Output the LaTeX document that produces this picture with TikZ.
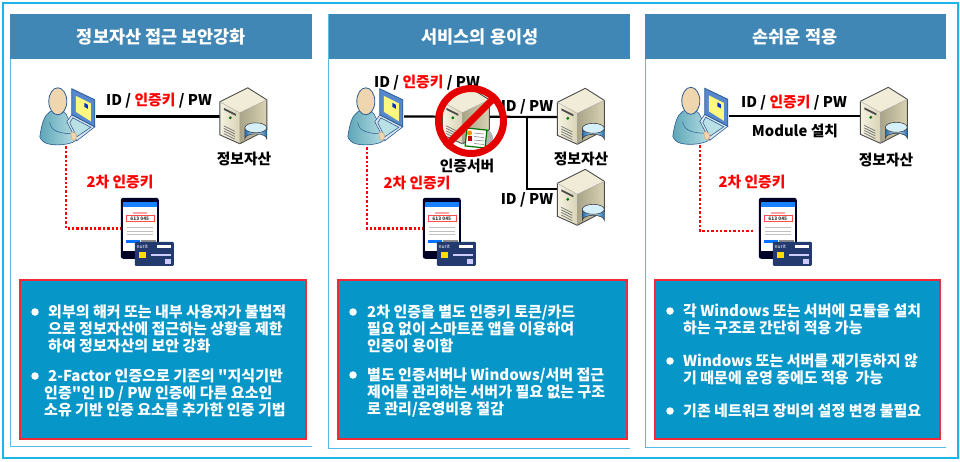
\documentclass[tikz,border=0pt]{standalone}
\usepackage{fontspec}
\setmainfont{Noto Sans CJK KR}
\newfontfamily\krplain{Noto Sans CJK KR}
\newcommand{\qmark}{{\krplain"}}
\usetikzlibrary{calc}
\definecolor{frameblue}{HTML}{1CB5EA}
\definecolor{panelline}{HTML}{55BDE4}
\definecolor{headblue}{HTML}{4187B5}
\definecolor{boxblue}{HTML}{0796C8}
\definecolor{boxred}{HTML}{EE2B36}
\definecolor{keyred}{HTML}{FF0000}
\definecolor{bodyl}{HTML}{B9E0E4}
\definecolor{bodyr}{HTML}{5FA6B8}
\definecolor{skin}{HTML}{F0D6AE}
\definecolor{outlineblue}{HTML}{2B5C94}
\definecolor{srvtop}{HTML}{F1ECD8}
\definecolor{srvl}{HTML}{F5F2E2}
\definecolor{srvm}{HTML}{D9D3B4}
\definecolor{srvr}{HTML}{A9A388}
\definecolor{cyla}{HTML}{1C6DB4}
\definecolor{cylb}{HTML}{D6F0FA}
\definecolor{navycard}{HTML}{233A6E}
\tikzset{
  x=1pt,y=-1pt,
  headtext/.style={font=\fontsize{17.5}{20}\selectfont\bfseries,text=white,inner sep=0},
  infobox/.style={fill=boxblue,draw=boxred,line width=1.2pt},
  infotext/.style={font=\fontsize{15}{17}\selectfont\bfseries,text=white,inner sep=0,align=left,anchor=west},
  bulletdot/.style={circle,fill=white,inner sep=0,minimum size=7.5pt},
  lab/.style={font=\fontsize{14.8}{16}\selectfont\bfseries,inner sep=0,text=black},
  redlab/.style={font=\fontsize{14.8}{16}\selectfont\bfseries,inner sep=0,text=keyred},
  link/.style={draw=black,line width=2.2pt},
  dotlink/.style={draw=keyred,line width=2.4pt,dash pattern=on 2.4pt off 2pt},
  anchorbox/.style={inner sep=0,minimum width=#1,draw=none},
  userpic/.pic={
    \draw[draw=outlineblue,line width=.6pt,left color=bodyr,right color=bodyl]
      (0,49) .. controls (2,36) and (4,28) .. (10,24) .. controls (15,21) and (22,21) .. (26,26)
      .. controls (30,33) and (32,40) .. (35,46) -- (38,51) -- (34,54) .. controls (28,57) and (16,58) .. (8,56) .. controls (4,55) and (1,52) .. (0,49) -- cycle;
    \draw[draw=outlineblue,line width=.5pt] (10,34) .. controls (10,43) and (20,46) .. (34,46);
    \draw[draw=outlineblue,line width=.6pt,fill=white!85!outlineblue] (27,34) -- (32,27) -- (55,39) -- (37,53) -- cycle;
    \draw[draw=outlineblue,line width=.6pt,fill=bodyl] (30,35) -- (33,30) -- (51,39.5) -- (37,49) -- cycle;
    \draw[draw=outlineblue,line width=.8pt,fill=cyan!45!blue!70!white] (32,1) -- (55,12) -- (55,39) -- (32,27) -- cycle;
    \fill[yellow!50!white] (36,8) -- (51,15.5) -- (51,33.5) -- (36,24) -- cycle;
    \fill[blue!60!teal] (44.5,15) -- (48,17) -- (48,21) -- (44.5,19) -- cycle;
    \fill[fill=skin,draw=brown!70!white,line width=.4pt] (31,45) .. controls (34,43) and (37,46) .. (37,49) -- (35,53) -- (32,51) -- cycle;
    \draw[draw=outlineblue,line width=.8pt,fill=skin] (18,13.5) ellipse [x radius=9,y radius=13.5];
  },
  serverpic/.pic={
    \shade[left color=srvl,right color=srvm] (0,14) -- (20,25) -- (20,56) -- (0,47) -- cycle;
    \fill[srvtop] (0,14) -- (28,0) -- (47,12) -- (20,25) -- cycle;
    \shade[left color=srvr,right color=srvm] (20,25) -- (47,12) -- (47,42) -- (20,56) -- cycle;
    \draw[draw=black!70,line width=.9pt,line join=round] (0,14) -- (28,0) -- (47,12) -- (47,42) -- (20,56) -- (0,47) -- cycle;
    \draw[black!35,line width=.4pt] (0,14) -- (20,25) -- (47,12) (20,25) -- (20,56);
    \fill[black!70] (4,20) -- (16,26) -- (16,28) -- (4,22) -- cycle;
    \fill[green!45!black] (10.5,30) circle (1.6);
    \foreach \k in {0,2.6,5.2,7.8} {\draw[black!55,line width=.7pt] (4,38+\k) -- (15,43.5+\k);}
  },
  cylpic/.pic={
    \draw[draw=black!75,line width=.6pt,left color=cyla,right color=cyla,middle color=cylb]
      (25,40) -- (25,51) arc[start angle=180,end angle=360,x radius=11,y radius=5] -- (47,40) -- cycle;
    \draw[draw=black!75,line width=.6pt,fill=cylb] (36,40) ellipse[x radius=11,y radius=5];
  },
  phonepic/.pic={
    \fill[black!85!blue,rounded corners=2.5pt] (0,0) rectangle (38,61);
    \fill[white] (2,4) rectangle (36,53);
    \fill[blue!55!cyan!90!white] (2,4) rectangle (36,9);
    \fill[keyred!35!white] (12,14.5) rectangle (26,16);
    \draw[keyred!70!white,line width=.5pt,fill=white] (5,17.5) rectangle (33,23.5);
    \node[inner sep=0,font=\fontsize{4.8}{5}\selectfont\bfseries,text=black!80] (code) at (19,20.6) {613 045};
    \foreach \k in {29,33,36} {\fill[black!25] (6,\k) rectangle (32,\k+1.2);}
    \fill[blue!55!cyan] (5,42) rectangle (19,45);
    \fill[black!45] (20,42) rectangle (35,45);
  },
  cardpic/.pic={
    \fill[navycard,rounded corners=1pt] (0,0) rectangle (39,24);
    \node[inner sep=0,font=\fontsize{5}{5}\selectfont,text=white] (brand) at (7.5,5.2) {nurit};
    \fill[white] (22,3) rectangle (36,6.5);
    \fill[yellow!80!orange] (4,10.5) rectangle (11.5,16);
    \fill[white!80!blue] (16,12.5) rectangle (36,14);
    \fill[white!80!blue] (30,17) rectangle (36,22.5);
  },
}
\begin{document}
\begin{tikzpicture}
\useasboundingbox (0,0) rectangle (960,461);
\fill[white] (0,0) rectangle (960,461);
% frames
\draw[frameblue,line width=2pt] (2.5,3) rectangle (958,458);
\foreach \xa/\xb/\yb in {10/312/446,328.5/630/448,645/946/447}{
  \draw[panelline,line width=1pt] (\xa,14) -- (\xa,\yb) -- (\xb,\yb);
  \fill[headblue] (\xa,14) rectangle (\xb,58.5);
}
\node[headtext] (h1) at (161.5,37) {정보자산 접근 보안강화};
\node[headtext] (h2) at (480,37) {서비스의 용이성};
\node[headtext] (h3) at (795,37) {손쉬운 적용};

% ---------- panel 1
\node[anchorbox=56pt,minimum height=57pt] (u1) at (68,116.5) {};
\node[anchorbox=47pt,minimum height=57pt] (s1) at (243.5,116.5) {};
\node[anchorbox=38pt,minimum height=61pt] (p1) at (140,228.5) {};
\node[anchorbox=39pt,minimum height=24pt] (c1) at (154.5,254) {};
\coordinate (d1) at (66,142);
\draw[link] (u1.east) -- (s1.west);
\draw[dotlink] (d1) |- (p1.west);
\pic at (u1.north west) {userpic};
\pic at (s1.north west) {serverpic};
\pic at (s1.north west) {cylpic};
\pic at (p1.north west) {phonepic};
\pic at (c1.north west) {cardpic};
\node[lab] (t1) at (159,101) {ID / \textcolor{keyred}{인증키} / PW};
\node[lab] (n1) at (244,159) {정보자산};
\node[redlab] (k1) at (120,182) {2차 인증키};

% ---------- panel 2
\node[lab] (t2) at (427,83) {ID / \textcolor{keyred}{인증키} / PW};
\node[lab] (t2b) at (527,107) {ID / PW};
\node[lab] (t2c) at (527,200) {ID / PW};
\node[anchorbox=56pt,minimum height=57pt] (u2) at (376,116.5) {};
\node[anchorbox=47pt,minimum height=57pt] (a2) at (466,116.5) {};
\node[anchorbox=47pt,minimum height=57pt] (s2) at (581,117) {};
\node[anchorbox=47pt,minimum height=57pt] (s3) at (581,198) {};
\node[anchorbox=38pt,minimum height=61pt] (p2) at (442,228.5) {};
\node[anchorbox=39pt,minimum height=24pt] (c2) at (456.5,254) {};
\coordinate (j2) at (527,117);
\coordinate (d2) at (367,143);
\draw[link] (u2.east) -- (s2.west);
\draw[link] (j2) |- ([yshift=9pt]s3.west);
\draw[dotlink] (d2) |- (p2.west);
\pic at (u2.north west) {userpic};
\fill[black!30] (484,138) ellipse[x radius=9,y radius=9];
\pic at (a2.north west) {serverpic};
\draw[green!45!black,line width=1.2pt,fill=white,rotate around={-6:(476,138)}] (466,129) rectangle (486,147);
\fill[orange!85!yellow] (469.5,133) circle (2.6);
\fill[keyred!80!black] (467.5,136) rectangle (472,141);
\foreach \k in {133,136.5,140,143.5}{\draw[black!55,line width=.5pt] (474,\k) -- (484,\k+1);}
\pic at (s2.north west) {serverpic};
\pic at (s2.north west) {cylpic};
\pic at (s3.north west) {serverpic};
\pic at (s3.north west) {cylpic};
\pic at (p2.north west) {phonepic};
\pic at (c2.north west) {cardpic};
\node[circle,draw=keyred!90!black,line width=7pt,inner sep=0,minimum size=65pt] (no) at (471,121) {};
\draw[keyred!90!black,line width=7pt] (no.45) -- (no.225);
\node[lab] (n2a) at (467,166) {인증서버};
\node[lab] (n2) at (581,159) {정보자산};
\node[redlab] (k2) at (417,183) {2차 인증키};

% ---------- panel 3
\node[anchorbox=56pt,minimum height=57pt] (u3) at (701,116) {};
\node[anchorbox=47pt,minimum height=57pt] (s4) at (884,116) {};
\node[anchorbox=38pt,minimum height=61pt] (p3) at (778,231) {};
\node[anchorbox=39pt,minimum height=24pt] (c3) at (792.5,254) {};
\coordinate (d3) at (700,141);
\draw[link] (u3.east) -- (s4.west);
\draw[dotlink,shorten >=4pt] (d3) |- (p3.west);
\pic at (u3.north west) {userpic};
\pic at (s4.north west) {serverpic};
\pic at (s4.north west) {cylpic};
\pic at ($(p3.north west)+(0,-2.5)$) {phonepic};
\pic at (c3.north west) {cardpic};
\node[lab] (t3) at (794,103) {ID / \textcolor{keyred}{인증키} / PW};
\node[lab] (m3) at (795,131) {Module 설치};
\node[lab] (n3) at (886,160) {정보자산};
\node[redlab] (k3) at (752,182) {2차 인증키};

% ---------- info boxes
\draw[infobox] (20,280) rectangle (306,439);
\draw[infobox] (338,280) rectangle (627,439);
\draw[infobox] (655,280) rectangle (940,439);

\node[bulletdot] (b11) at (35,312) {};
\node[infotext] (x11) at (48,329) {외부의 해커 또는 내부 사용자가 불법적\\으로 정보자산에 접근하는 상황을 제한\\하여 정보자산의 보안 강화};
\node[bulletdot] (b12) at (35,376) {};
\node[infotext] (x12) at (44,393) {\hspace{4pt}2-Factor 인증으로 기존의 \qmark{}지식기반\\인증\qmark{}인 ID / PW 인증에 다른 요소인\\소유 기반 인증 요소를 추가한 인증 기법};

\node[bulletdot] (b21) at (353,312) {};
\node[infotext] (x21) at (367,329) {2차 인증을 별도 인증키 토큰/카드\\필요 없이 스마트폰 앱을 이용하여\\인증이 용이함};
\node[bulletdot] (b22) at (353,375) {};
\node[infotext] (x22) at (367,393) {별도 인증서버나 Windows/서버 접근\\제어를 관리하는 서버가 필요 없는 구조\\로 관리/운영비용 절감};

\node[bulletdot] (b31) at (670,311) {};
\node[infotext] (x31) at (683,319.5) {각 Windows 또는 서버에 모듈을 설치\\하는 구조로 간단히 적용 가능};
\node[bulletdot] (b32) at (670,361) {};
\node[infotext] (x32) at (683,369.5) {Windows 또는 서버를 재기동하지 않\\기 때문에 운영 중에도 적용\ \ 가능};
\node[bulletdot] (b33) at (670,411) {};
\node[infotext] (x33) at (683,411) {기존 네트워크 장비의 설정 변경 불필요};
\end{tikzpicture}
\end{document}
